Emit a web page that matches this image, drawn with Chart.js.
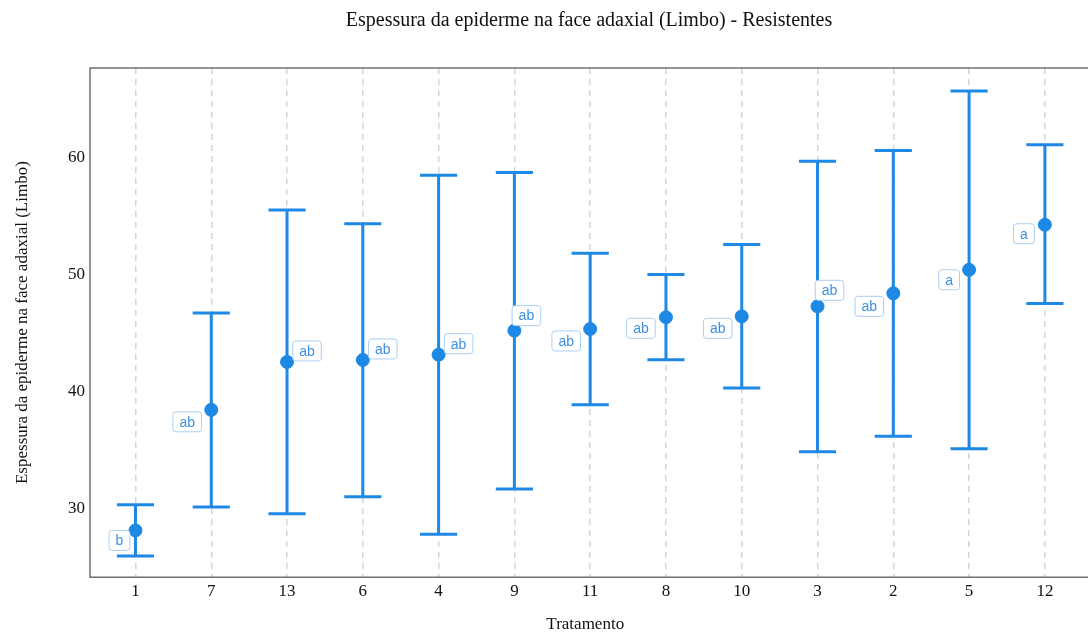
<!DOCTYPE html>
<html>
<head>
<meta charset="utf-8">
<script src="https://cdn.jsdelivr.net/npm/chart.js@4"></script>
<style>
  html, body { margin: 0; padding: 0; background: #fff; }
  #wrap { width: 1088px; height: 637px; }
</style>
</head>
<body>
<div id="wrap"><canvas id="c" width="1088" height="637"></canvas></div>
<script>
// data
const tratamentos = ['1', '7', '13', '6', '4', '9', '11', '8', '10', '3', '2', '5', '12'];
const medias = [28.09, 38.4, 42.49, 42.66, 43.11, 45.17, 45.31, 46.31, 46.39, 47.25, 48.36, 50.37, 54.22];
const limInf = [25.91, 30.09, 29.51, 30.97, 27.77, 31.63, 38.83, 42.68, 40.26, 34.82, 36.14, 35.08, 47.48];
const limSup = [30.28, 46.68, 55.48, 54.31, 58.45, 58.68, 51.79, 49.97, 52.54, 59.65, 60.57, 65.65, 61.05];
const letras = ['b', 'ab', 'ab', 'ab', 'ab', 'ab', 'ab', 'ab', 'ab', 'ab', 'ab', 'a', 'a'];
const yTicks = [30, 40, 50, 60];

// label placement (px offset from the point), like ggrepel
const labelOffsets = [
  [-16, 10], [-24, 12], [20, -11], [20, -11], [20, -11], [12, -15], [-24, 12],
  [-25, 11], [-24, 12], [12, -16], [-24, 13], [-20, 10], [-21, 9]
];

const BLUE = '#1E88E5';
const serif = '"Liberation Serif", "DejaVu Serif", serif';

const errorBarPlugin = {
  id: 'errorBars',
  beforeDatasetsDraw(chart) {
    const { ctx, scales: { x, y } } = chart;
    ctx.save();
    ctx.strokeStyle = BLUE;
    ctx.lineWidth = 3;
    tratamentos.forEach((t, i) => {
      const px = x.getPixelForValue(i);
      const lo = y.getPixelForValue(limInf[i]);
      const hi = y.getPixelForValue(limSup[i]);
      const half = 0.245 * (x.getPixelForValue(1) - x.getPixelForValue(0));
      ctx.beginPath();
      ctx.moveTo(px, lo); ctx.lineTo(px, hi);
      ctx.moveTo(px - half, lo); ctx.lineTo(px + half, lo);
      ctx.moveTo(px - half, hi); ctx.lineTo(px + half, hi);
      ctx.stroke();
    });
    ctx.restore();
  },
  afterDatasetsDraw(chart) {
    const { ctx, chartArea, scales: { x, y } } = chart;
    ctx.save();
    // letters in boxes
    ctx.font = '14px "Liberation Sans", Arial, sans-serif';
    ctx.textAlign = 'center';
    ctx.textBaseline = 'middle';
    letras.forEach((l, i) => {
      const px = x.getPixelForValue(i) + labelOffsets[i][0];
      const py = y.getPixelForValue(medias[i]) + labelOffsets[i][1];
      const w = ctx.measureText(l).width + 13;
      const h = 20;
      ctx.beginPath();
      ctx.roundRect(px - w / 2, py - h / 2, w, h, 3);
      ctx.fillStyle = '#fff';
      ctx.fill();
      ctx.lineWidth = 1;
      ctx.strokeStyle = '#a9cff2';
      ctx.stroke();
      ctx.fillStyle = '#3f8fe0';
      ctx.fillText(l, px, py + 1);
    });
    // panel border (right side falls just outside the canvas)
    ctx.strokeStyle = '#4d4d4d';
    ctx.lineWidth = 1.2;
    ctx.strokeRect(chartArea.left, chartArea.top, chartArea.right - chartArea.left + 12, chartArea.bottom - chartArea.top);
    // title centred over the panel
    ctx.fillStyle = '#111';
    ctx.font = '20px ' + serif;
    ctx.textBaseline = 'middle';
    ctx.fillText('Espessura da epiderme na face adaxial (Limbo) - Resistentes', 589, 21);
    ctx.restore();
  }
};

new Chart(document.getElementById('c'), {
  type: 'scatter',
  data: {
    datasets: [{
      data: medias.map((m, i) => ({ x: i, y: m })),
      backgroundColor: BLUE,
      borderColor: BLUE,
      pointRadius: 6.5,
      pointHoverRadius: 6.5
    }]
  },
  options: {
    responsive: false,
    animation: false,
    layout: { padding: { top: 68, right: 0, left: 0, bottom: 0 } },
    plugins: {
      legend: { display: false },
      tooltip: { enabled: false },
      title: { display: false }
    },
    scales: {
      x: {
        type: 'linear',
        min: -0.6,
        max: 12.47,
        afterBuildTicks(scale) {
          scale.ticks = tratamentos.map((t, i) => ({ value: i }));
        },
        ticks: {
          callback: (v) => tratamentos[v],
          color: '#111',
          font: { family: serif, size: 17 },
          padding: 4,
          maxRotation: 0,
          autoSkip: false
        },
        grid: { color: '#d6d6d6', lineWidth: 1.5, drawTicks: false },
        border: { display: false, dash: [6, 5] },
        title: {
          display: true,
          text: 'Tratamento',
          color: '#111',
          font: { family: serif, size: 17 },
          padding: { top: 9, bottom: 2 }
        }
      },
      y: {
        min: 24.09,
        max: 67.62,
        afterBuildTicks(scale) {
          scale.ticks = yTicks.map(v => ({ value: v }));
        },
        afterFit(scale) { scale.width = 90; },
        ticks: {
          color: '#111',
          font: { family: serif, size: 17 },
          padding: 5
        },
        grid: { display: false, drawTicks: false },
        border: { display: false },
        title: {
          display: true,
          text: 'Espessura da epiderme na face adaxial (Limbo)',
          color: '#111',
          font: { family: serif, size: 17 },
          padding: { top: 12, bottom: 0 }
        }
      }
    }
  },
  plugins: [errorBarPlugin]
});
</script>
</body>
</html>
